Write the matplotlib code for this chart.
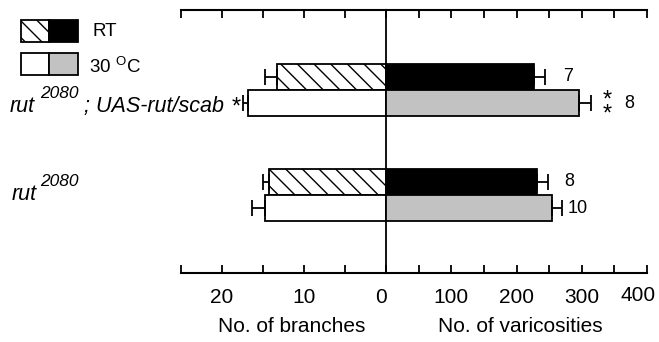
import matplotlib
matplotlib.use('Agg')
import matplotlib.pyplot as plt
from matplotlib.patches import Rectangle
from matplotlib.transforms import ScaledTranslation
import numpy as np

plt.rcParams['font.family'] = ['Liberation Sans', 'DejaVu Sans']
plt.rcParams['mathtext.fontset'] = 'custom'
plt.rcParams['mathtext.rm'] = 'Liberation Sans'
plt.rcParams['hatch.linewidth'] = 1.0

# data (mean, error)
groups = [1, 0]  # rut2080;UAS-rut/scab, rut2080
branches_rt = [13.3, 14.3]
branches_rt_err = [1.4, 0.7]
branches_30 = [16.8, 14.8]
branches_30_err = [0.6, 1.5]
varic_rt = [227, 231]
varic_rt_err = [17, 17]
varic_30 = [296, 254]
varic_30_err = [18, 16]
n_rt = ['7', '8']
n_30 = ['8', '10']
branch_ticks = [0, 5, 10, 15, 20, 25]
branch_ticklabels = ['0', '', '10', '', '20', '']
varic_ticks = [0, 50, 100, 150, 200, 250, 300, 350, 400]
varic_ticklabels = ['', '', '100', '', '200', '', '300', '', '400']

GREY = '#c2c2c2'
HATCH = '\\\\'
LW = 1.3
W, H = 659, 342

fig = plt.figure(figsize=(W / 100, H / 100), dpi=100)

def fx(px):
    return px / W

def fy(py):
    return 1 - py / H

axL = fig.add_axes([fx(181), fy(273), fx(386 - 181), (273 - 10) / H])
axR = fig.add_axes([fx(386), fy(273), fx(647 - 386), (273 - 10) / H])

y = np.array(groups, dtype=float)
bh = 0.25
y_rt = y + bh / 2
y_30 = y - bh / 2

# left: branches
axL.barh(y_rt, branches_rt, height=bh, color='white', edgecolor='black',
         hatch=HATCH, linewidth=LW, zorder=2)
axL.barh(y_30, branches_30, height=bh, color='white', edgecolor='black',
         linewidth=LW, zorder=2)
axL.errorbar(branches_rt, y_rt, xerr=[np.zeros(2), branches_rt_err], fmt='none',
             ecolor='black', elinewidth=LW, capsize=5.5, capthick=LW, zorder=3)
axL.errorbar(branches_30, y_30, xerr=[np.zeros(2), branches_30_err], fmt='none',
             ecolor='black', elinewidth=LW, capsize=5.5, capthick=LW, zorder=3)

# right: varicosities
axR.barh(y_rt, varic_rt, height=bh, color='black', edgecolor='black',
         linewidth=LW, zorder=2)
axR.barh(y_30, varic_30, height=bh, color=GREY, edgecolor='black',
         linewidth=LW, zorder=2)
axR.errorbar(varic_rt, y_rt, xerr=[np.zeros(2), varic_rt_err], fmt='none',
             ecolor='black', elinewidth=LW, capsize=5.5, capthick=LW, zorder=3)
axR.errorbar(varic_30, y_30, xerr=[np.zeros(2), varic_30_err], fmt='none',
             ecolor='black', elinewidth=LW, capsize=5.5, capthick=LW, zorder=3)

# sample sizes
offsets_rt = [13, 12]
offsets_30 = [24, 4]
for i in range(2):
    axR.annotate(n_rt[i], (varic_rt[i] + varic_rt_err[i], y_rt[i]),
                 xytext=(offsets_rt[i], 0), textcoords='offset points',
                 ha='left', va='center', fontsize=13)
    axR.annotate(n_30[i], (varic_30[i] + varic_30_err[i], y_30[i]),
                 xytext=(offsets_30[i], 0), textcoords='offset points',
                 ha='left', va='center', fontsize=13)
# significance stars (stacked)
axR.annotate('*\n*', (varic_30[0] + varic_30_err[0], y_30[0]), xytext=(12, -3),
             textcoords='offset points', ha='center', va='center', fontsize=17,
             linespacing=0.55)

ylim = (-0.743, 1.762)
axL.set_xlim(25, 0)
axR.set_xlim(0, 400)
for ax in (axL, axR):
    ax.set_ylim(*ylim)
    ax.set_yticks([])
    ax.patch.set_alpha(0)
    for s in ('top', 'bottom'):
        ax.spines[s].set_linewidth(1.5)
    ax.tick_params(axis='x', direction='in', top=True, bottom=True,
                   labeltop=False, length=6, width=1.3, labelsize=15, pad=11)
axL.spines['left'].set_visible(False)
axL.spines['right'].set_linewidth(1.3)
axR.spines['left'].set_visible(False)
axR.spines['right'].set_visible(False)

axL.set_xticks(branch_ticks)
axL.set_xticklabels(branch_ticklabels)
axR.set_xticks(varic_ticks)
axR.set_xticklabels(varic_ticklabels)

# nudge the outer tick labels like in the original
lab0 = axL.get_xticklabels()[0]
lab0.set_transform(lab0.get_transform() + ScaledTranslation(-0.05, 0, fig.dpi_scale_trans))
lab400 = axR.get_xticklabels()[-1]
lab400.set_transform(lab400.get_transform() + ScaledTranslation(-0.09, 0.02, fig.dpi_scale_trans))

fig.text(fx(292), fy(327), 'No. of branches', ha='center', va='center', fontsize=15)
fig.text(fx(520), fy(327), 'No. of varicosities', ha='center', va='center', fontsize=15)

# genotype labels
def genotype(x0, base, rest):
    fig.text(fx(x0), fy(base), 'rut', style='italic', fontsize=15.5, va='baseline')
    fig.text(fx(40), fy(base - 14), '2080', style='italic', fontsize=12.5, va='baseline')
    if rest:
        fig.text(fx(84), fy(base), rest, style='italic', fontsize=15.5, va='baseline')

genotype(10, 112, '; UAS-rut/scab')
fig.text(fx(236), fy(108), '*', fontsize=17, ha='center', va='center')
genotype(12, 200, '')

# legend
def legend_box(y0, left_face, left_hatch, right_face):
    fig.add_artist(Rectangle((fx(21), fy(y0 + 22)), fx(28), 22 / H, facecolor=left_face,
                             edgecolor='black', hatch=left_hatch, linewidth=LW))
    fig.add_artist(Rectangle((fx(49), fy(y0 + 22)), fx(29), 22 / H, facecolor=right_face,
                             edgecolor='black', linewidth=LW))

legend_box(20, 'white', HATCH, 'black')
legend_box(53, 'white', None, GREY)
fig.text(fx(92), fy(31), 'RT', fontsize=13.5, va='center')
fig.text(fx(89), fy(73), r'30 $^{\mathrm{O}}$C', fontsize=13.5, va='baseline')

fig.savefig('out.png', dpi=100, facecolor='white')
